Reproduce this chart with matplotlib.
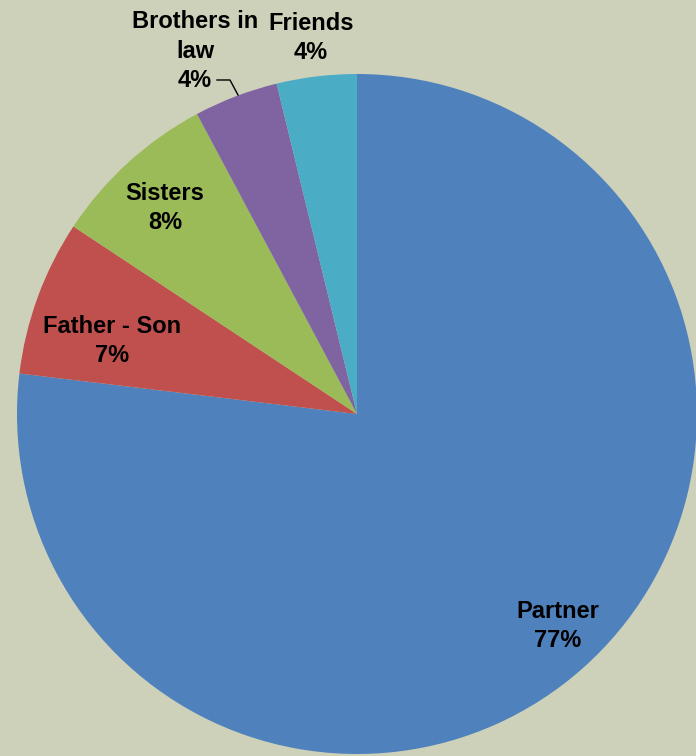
import numpy as np
import matplotlib.pyplot as plt

labels = ["Partner", "Father - Son", "Sisters", "Brothers in\nlaw", "Friends"]
shares = [76.9, 7.4, 7.9, 4.0, 3.8]
colors = ["#4F81BD", "#C0504D", "#9BBB59", "#8064A2", "#4BACC6"]

# label offsets from the pie centre (pixels, y up)
label_xy = [(201, -212), (-245, 73), (-192, 206), (-162, 363), (-46, 376)]

bg = "#CDD1BA"
fig = plt.figure(figsize=(6.96, 7.56), dpi=100, facecolor=bg)
ax = fig.add_axes([0, 0, 1, 1])
ax.set_facecolor(bg)

cx, cy, r = 357, 342, 340
ax.pie(shares, colors=colors, startangle=90, counterclock=False,
       center=(cx, cy), radius=r, frame=True,
       wedgeprops=dict(linewidth=0))
ax.set_xlim(0, 696)
ax.set_ylim(0, 756)
ax.set_aspect("equal")
ax.axis("off")

for lab, val, (dx, dy) in zip(labels, shares, label_xy):
    ax.text(cx + dx, cy + dy, f"{lab}\n{val:.0f}%", ha="center", va="center",
            fontsize=17, fontweight="bold", family="Liberation Sans",
            linespacing=1.35, color="black")

# leader line for the small brothers-in-law slice
ax.plot([217, 230, 238], [676, 676, 661], color="black", linewidth=1)

fig.savefig("out.png", dpi=100, facecolor=bg)
